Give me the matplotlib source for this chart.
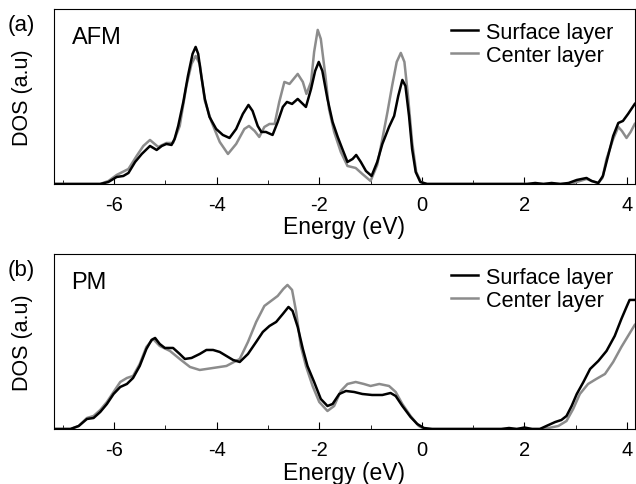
import matplotlib.pyplot as plt
from matplotlib.ticker import MultipleLocator

plt.rcParams['font.family'] = ['Liberation Sans', 'DejaVu Sans']
plt.rcParams['axes.unicode_minus'] = False

# panel (a) AFM, surface layer
afm_surf_e = [-7.17, -6.5, -6.27, -6.11, -5.95, -5.82, -5.72, -5.59, -5.46, -5.30, -5.17, -5.07, -4.98,
              -4.88, -4.82, -4.75, -4.65, -4.56, -4.47, -4.41, -4.36, -4.30, -4.23, -4.14, -4.01, -3.88,
              -3.75, -3.62, -3.49, -3.38, -3.30, -3.20, -3.13, -3.04, -2.91, -2.81, -2.71, -2.63, -2.53,
              -2.42, -2.32, -2.26, -2.16, -2.08, -2.01, -1.94, -1.84, -1.74, -1.64, -1.55, -1.45, -1.35,
              -1.28, -1.19, -1.09, -0.98, -0.87, -0.77, -0.64, -0.54, -0.46, -0.38, -0.32, -0.25, -0.19,
              -0.12, -0.03, 0.1, 1.9, 2.05, 2.21, 2.37, 2.53, 2.70, 2.86, 3.02, 3.21, 3.31, 3.44, 3.53,
              3.63, 3.73, 3.83, 3.92, 4.02, 4.15]
afm_surf_d = [0, 0, 0, 2, 7, 8, 11, 22, 30, 38, 34, 38, 40,
              39, 45, 58, 82, 108, 130, 137, 130, 108, 85, 67, 55, 49,
              46, 55, 70, 79, 73, 58, 52, 52, 49, 62, 77, 82, 80,
              85, 80, 77, 95, 113, 122, 113, 85, 62, 47, 35, 22, 25,
              29, 22, 13, 8, 22, 40, 57, 68, 88, 104, 98, 68, 35,
              12, 2, 0, 0, 0, 1, 0, 1, 0, 1, 4, 6, 3, 1, 8,
              28, 48, 61, 63, 70, 80]

# panel (a) AFM, center layer
afm_cent_e = [-7.17, -6.5, -6.27, -6.11, -5.95, -5.72, -5.56, -5.43, -5.30, -5.14, -4.98, -4.85, -4.72,
              -4.59, -4.49, -4.41, -4.33, -4.23, -4.10, -3.94, -3.78, -3.62, -3.46, -3.37, -3.26, -3.17,
              -3.07, -2.97, -2.87, -2.78, -2.68, -2.58, -2.42, -2.32, -2.25, -2.16, -2.10, -2.03, -1.97,
              -1.88, -1.81, -1.71, -1.58, -1.45, -1.29, -1.16, -1.0, -0.87, -0.77, -0.67, -0.58, -0.49,
              -0.41, -0.34, -0.27, -0.19, -0.11, -0.02, 0.1, 2.9, 3.02, 3.21, 3.31, 3.44, 3.52, 3.60,
              3.73, 3.83, 3.90, 3.99, 4.07, 4.15]
afm_cent_d = [0, 0, 0, 3, 9, 15, 28, 38, 44, 37, 41, 41, 58,
              98, 120, 128, 120, 83, 62, 42, 30, 40, 55, 58, 53, 47,
              57, 60, 60, 82, 102, 100, 110, 102, 90, 102, 132, 154, 145,
              108, 75, 52, 32, 18, 16, 10, 3, 19, 45, 72, 98, 122,
              131, 122, 88, 42, 12, 2, 0, 0, 2, 5, 3, 1, 6, 25,
              45, 57, 53, 46, 52, 60]

# panel (b) PM, surface layer
pm_surf_e = [-7.17, -6.85, -6.69, -6.53, -6.40, -6.27, -6.14, -6.01, -5.88, -5.75, -5.63, -5.50, -5.37,
             -5.27, -5.20, -5.11, -5.01, -4.85, -4.72, -4.62, -4.49, -4.33, -4.20, -4.07, -3.94, -3.81,
             -3.68, -3.55, -3.39, -3.23, -3.10, -2.97, -2.84, -2.71, -2.60, -2.52, -2.42, -2.32, -2.23,
             -2.10, -1.97, -1.84, -1.74, -1.61, -1.48, -1.32, -1.16, -0.97, -0.77, -0.61, -0.51, -0.38,
             -0.22, -0.09, 0.04, 0.2, 1.55, 1.7, 1.85, 2.0, 2.15, 2.3, 2.47, 2.60, 2.72, 2.82, 2.92,
             3.02, 3.15, 3.28, 3.44, 3.60, 3.76, 3.89, 3.99, 4.05, 4.15]
pm_surf_d = [0, 0, 3, 10, 11, 17, 25, 35, 42, 45, 51, 63, 80,
             89, 91, 85, 81, 81, 75, 70, 71, 75, 79, 79, 77, 73,
             69, 67, 75, 87, 97, 103, 107, 115, 122, 118, 102, 80, 63,
             47, 30, 23, 25, 35, 38, 37, 35, 34, 34, 36, 33, 23,
             12, 5, 1, 0, 0, 1, 0, 1.5, 0, 0, 4, 7, 9, 13, 23,
             35, 47, 60, 68, 78, 93, 110, 122, 129, 129]

# panel (b) PM, center layer
pm_cent_e = [-7.17, -6.85, -6.69, -6.53, -6.40, -6.27, -6.14, -6.01, -5.88, -5.75, -5.63, -5.50, -5.37,
             -5.24, -5.11, -4.91, -4.72, -4.52, -4.33, -4.07, -3.81, -3.55, -3.39, -3.23, -3.07, -2.94,
             -2.81, -2.70, -2.62, -2.53, -2.45, -2.36, -2.26, -2.13, -2.0, -1.84, -1.71, -1.58, -1.45,
             -1.29, -1.13, -1.0, -0.83, -0.64, -0.51, -0.38, -0.22, -0.06, 0.05, 2.3, 2.47, 2.66, 2.82,
             2.95, 3.08, 3.24, 3.40, 3.57, 3.73, 3.89, 4.02, 4.15]
pm_cent_d = [0, 0, 3, 11, 13, 19, 27, 37, 47, 51, 53, 65, 82,
             90, 83, 78, 70, 62, 59, 61, 63, 70, 87, 107, 123, 128,
             133, 140, 144, 139, 117, 83, 63, 43, 27, 18, 23, 38, 45,
             47, 45, 43, 45, 43, 37, 25, 13, 3, 0, 0, 1, 3, 8,
             20, 35, 45, 50, 55, 67, 82, 93, 104]

fig = plt.figure(figsize=(6.36, 4.85), dpi=100)
ax1 = fig.add_axes([0.085, 0.6186, 0.913, 0.361])
ax2 = fig.add_axes([0.085, 0.1134, 0.913, 0.361])

panels = [(ax1, afm_surf_e, afm_surf_d, afm_cent_e, afm_cent_d, 'AFM', '(a)', 0.948),
          (ax2, pm_surf_e, pm_surf_d, pm_cent_e, pm_cent_d, 'PM', '(b)', 0.443)]

for ax, se, sd, ce, cd, name, tag, ty in panels:
    ax.plot(ce, cd, color='#8c8c8c', lw=1.8, label='Center layer')
    ax.plot(se, sd, color='black', lw=1.8, label='Surface layer')
    ax.set_xlim(-7.17, 4.15)
    ax.set_ylim(0, 175)
    ax.set_yticks([])
    ax.xaxis.set_major_locator(MultipleLocator(2))
    ax.xaxis.set_minor_locator(MultipleLocator(1))
    ax.tick_params(axis='x', which='both', direction='in', labelsize=14.5, pad=8)
    ax.tick_params(axis='x', which='major', length=5)
    ax.tick_params(axis='x', which='minor', length=3)
    ax.set_xlabel('Energy (eV)', fontsize=16.5, labelpad=1)
    ax.set_ylabel('DOS (a.u)', fontsize=15.5, labelpad=15)
    ax.text(0.03, 0.9, name, transform=ax.transAxes, fontsize=17, va='top')
    fig.text(0.012, ty, tag, fontsize=16, va='center')
    h, l = ax.get_legend_handles_labels()
    ax.legend(h[::-1], l[::-1], loc='upper right', frameon=False, fontsize=15.6,
              handlelength=1.25, handletextpad=0.35, labelspacing=0.1,
              borderaxespad=0.2, bbox_to_anchor=(0.985, 1.0))

fig.savefig('out.png', dpi=100)
